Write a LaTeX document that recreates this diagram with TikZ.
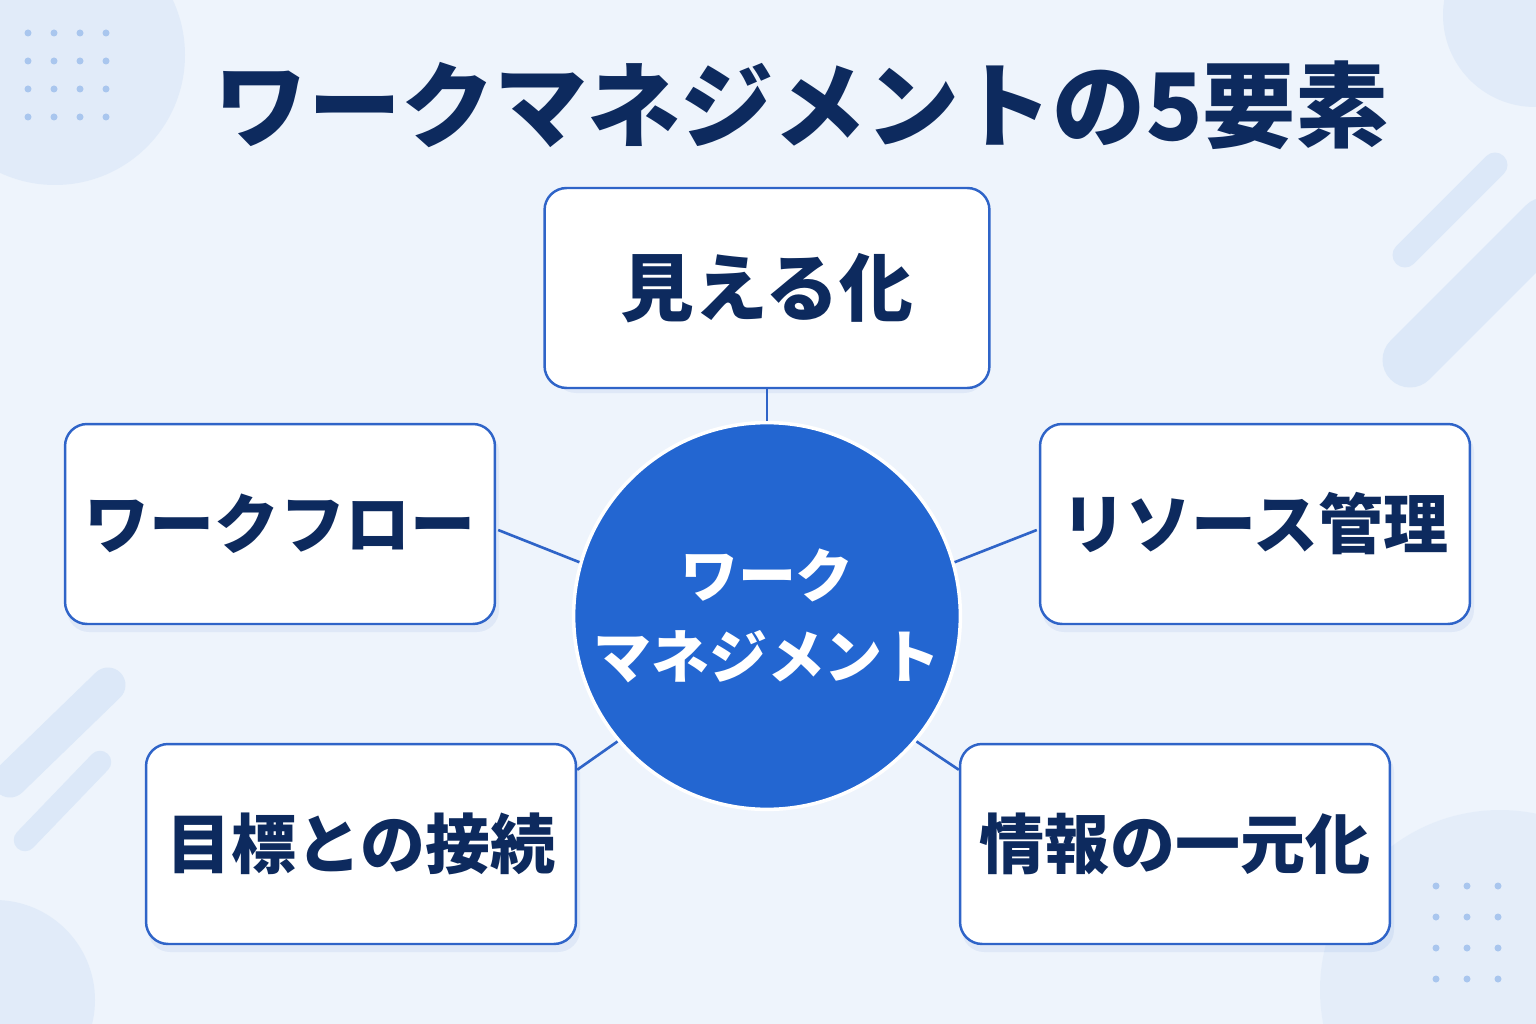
\documentclass[tikz,border=0pt]{standalone}
\usepackage{fontspec}
\setmainfont{Noto Sans CJK JP}
\usetikzlibrary{calc}
\definecolor{bg}{HTML}{EEF4FC}
\definecolor{deco}{HTML}{DCE8F8}
\definecolor{dots}{HTML}{A9C6EE}
\definecolor{navy}{HTML}{0D2A5E}
\definecolor{edge}{HTML}{2F64C8}
\definecolor{hub}{HTML}{2366D1}
\begin{document}
\begin{tikzpicture}[x=0.02cm,y=-0.02cm,
  box/.style={draw=edge,line width=1.4pt,fill=white,rounded corners=0.44cm,minimum width=8.6cm,minimum height=4cm,font=\bfseries\fontsize{37}{40}\selectfont,text=navy},
  link/.style={draw=edge,line width=1.5pt}]
\useasboundingbox (0,0) rectangle (1536,1024);
\fill[bg] (0,0) rectangle (1536,1024);
\begin{scope}
\clip (0,0) rectangle (1536,1024);
\fill[deco,opacity=0.7] (55,55) circle (130);
\fill[deco,opacity=0.7] (1535,15) circle (92);
\fill[deco,opacity=0.7] (-5,1000) circle (100);
\fill[deco,opacity=0.5] (1500,990) circle (180);
\draw[deco,line width=0.5cm,line cap=round] (1405,255) -- (1495,165);
\draw[deco,line width=1.1cm,line cap=round] (1410,360) -- (1545,225);
\draw[deco,line width=0.7cm,line cap=round] (10,780) -- (108,685);
\draw[deco,line width=0.45cm,line cap=round] (25,840) -- (100,762);
\foreach \i in {0,...,3} \foreach \j in {0,...,3}
  \fill[dots] ({28+26*\i},{33+28*\j}) circle (3.5);
\foreach \i in {0,...,2} \foreach \j in {0,...,3}
  \fill[dots] ({1436+31*\i},{886+31*\j}) circle (3.5);
\end{scope}
\node[font=\bfseries\fontsize{53}{58}\selectfont,text=navy] (title) at (802,105) {ワークマネジメントの5要素};
\foreach \x/\y in {767/285,280/524,1255/524,361/844,1175/844}
  \fill[edge,opacity=0.08,rounded corners=0.44cm] ({\x-213},{\y-94}) rectangle ({\x+219},{\y+108});
\node[box,minimum width=8.9cm,font=\bfseries\fontsize{42}{46}\selectfont] (top) at (767,288) {見える化};
\node[box] (l) at (280,524) {ワークフロー};
\node[box] (r) at (1255,524) {リソース管理};
\node[box] (bl) at (361,844) {目標との接続};
\node[box] (br) at (1175,844) {情報の一元化};
\node[circle,fill=hub,draw=white,line width=2pt,minimum size=7.4cm,align=center,text=white,font=\bfseries\fontsize{33}{46}\selectfont] (c) at (767,616) {ワーク\\マネジメント};
\draw[link] (top.south) -- (c.north);
\draw[link] ($(l.east)+(2,6)$) -- (c.164);
\draw[link] (c.16) -- ($(r.west)+(-2,6)$);
\draw[link] (c.220) -- ($(bl.north east)+(0,27)$);
\draw[link] (c.320) -- ($(br.north west)+(0,27)$);
\end{tikzpicture}
\end{document}
